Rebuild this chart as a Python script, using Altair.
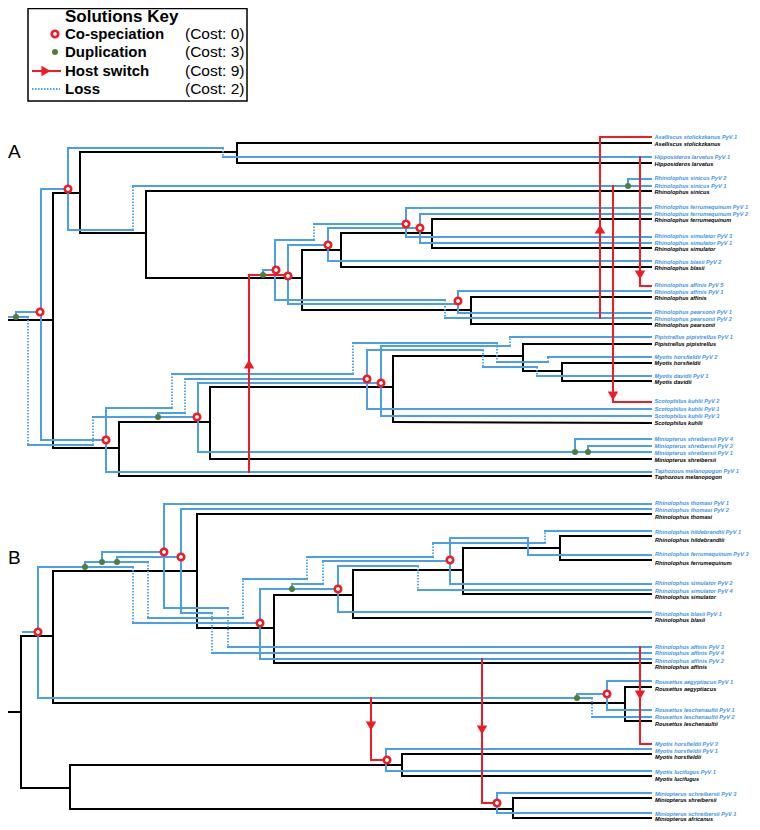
import altair as alt
import pandas as pd

# ---------------- colours ----------------
BLUE = "#4a9fe6"
BLUE_TXT = "#3d95e6"
RED = "#ee1c25"
GREEN = "#4e7d3c"

# ---------------- labels (name, y) ----------------
A_PARASITE_LABELS = [
    ("Aselliscus stolickzkanus PyV 1", 137), ("Hipposideros larvatus PyV 1", 157),
    ("Rhinolophus sinicus PyV 2", 178), ("Rhinolophus sinicus PyV 1", 186),
    ("Rhinolophus ferrumequinum PyV 1", 207), ("Rhinolophus ferrumequinum PyV 2", 214),
    ("Rhinolophus simulator PyV 3", 236), ("Rhinolophus simulator PyV 1", 243),
    ("Rhinolophus blasii PyV 2", 262), ("Rhinolophus affinis PyV 5", 285),
    ("Rhinolophus affinis PyV 1", 292), ("Rhinolophus pearsonii PyV 1", 312),
    ("Rhinolophus pearsonii PyV 2", 319), ("Pipistrellus pipistrellus PyV 1", 337),
    ("Myotis horsfieldii PyV 2", 357), ("Myotis davidii PyV 1", 376),
    ("Scotophilus kuhlii PyV 2", 401), ("Scotophilus kuhlii PyV 1", 409),
    ("Scotophilus kuhlii PyV 3", 416), ("Miniopterus shreibersii PyV 4", 439),
    ("Miniopterus shreibersii PyV 2", 446), ("Miniopterus shreibersii PyV 1", 453),
    ("Taphozous melanopogon PyV 1", 471),
]
A_HOST_LABELS = [
    ("Aselliscus stolickzkanus", 144), ("Hipposideros larvatus", 164),
    ("Rhinolophus sinicus", 192), ("Rhinolophus ferrumequinum", 220),
    ("Rhinolophus simulator", 249), ("Rhinolophus blasii", 268),
    ("Rhinolophus affinis", 297.5), ("Rhinolophus pearsonii", 325),
    ("Pipistrellus pipistrellus", 344), ("Myotis horsfieldii", 363),
    ("Myotis davidii", 382), ("Scotophilus kuhlii", 423),
    ("Miniopterus shreibersii", 460), ("Taphozous melanopogon", 477),
]
B_PARASITE_LABELS = [
    ("Rhinolophus thomasi PyV 1", 503), ("Rhinolophus thomasi PyV 2", 510),
    ("Rhinolophus hildebrandtii PyV 1", 532), ("Rhinolophus ferrumequinum PyV 3", 554),
    ("Rhinolophus simulator PyV 2", 583), ("Rhinolophus simulator PyV 4", 591),
    ("Rhinolophus blasii PyV 1", 614), ("Rhinolophus affinis PyV 3", 647),
    ("Rhinolophus affinis PyV 4", 653), ("Rhinolophus affinis PyV 2", 661),
    ("Rousettus aegyptiacus PyV 1", 682), ("Rousettus leschenaultii PyV 1", 710),
    ("Rousettus leschenaultii PyV 2", 717), ("Myotis horsfieldii PyV 3", 744),
    ("Myotis horsfieldii PyV 1", 751), ("Myotis lucifugus PyV 1", 772),
    ("Miniopterus schreibersii PyV 3", 794), ("Miniopterus schreibersii PyV 1", 814),
]
B_HOST_LABELS = [
    ("Rhinolophus thomasi", 517), ("Rhinolophus hildebrandtii", 540),
    ("Rhinolophus ferrumequinum", 563), ("Rhinolophus simulator", 597),
    ("Rhinolophus blasii", 620), ("Rhinolophus affinis", 667),
    ("Rousettus aegyptiacus", 689), ("Rousettus leschenaultii", 724),
    ("Myotis horsfieldii", 757), ("Myotis lucifugus", 779),
    ("Miniopterus shreibersii", 800), ("Miniopterus africanus", 819),
]

# ---------------- host trees (black) : (x1, y1, x2, y2) ----------------
HOST_A = [
    (9, 320, 53, 320), (53, 193, 53, 448),
    (53, 193, 80, 193), (80, 152, 80, 233),
    (80, 152, 237, 152), (237, 143, 237, 163), (237, 143, 651, 143), (237, 163, 651, 163),
    (80, 233, 146, 233), (146, 191, 146, 278), (146, 191, 651, 191),
    (146, 278, 302, 278), (302, 250, 302, 310),
    (302, 250, 341, 250), (341, 233, 341, 267), (341, 267, 651, 267),
    (341, 233, 432, 233), (432, 219, 432, 248), (432, 219, 651, 219), (432, 248, 651, 248),
    (302, 310, 471, 310), (471, 297, 471, 324), (471, 297, 651, 297), (471, 324, 651, 324),
    (53, 448, 119, 448), (119, 422, 119, 476), (119, 476, 651, 476),
    (119, 422, 210, 422), (210, 387, 210, 459), (210, 459, 651, 459),
    (210, 387, 393, 387), (393, 356, 393, 422), (393, 422, 651, 423),
    (393, 356, 523, 356), (523, 344, 523, 371), (523, 344, 651, 344),
    (523, 371, 562, 371), (562, 363, 562, 381), (562, 363, 651, 363), (562, 381, 651, 381),
]
HOST_B = [
    (9, 712, 21, 712), (21, 636, 21, 788),
    (21, 636, 53, 636), (53, 571, 53, 703),
    (53, 703, 625, 703), (625, 687, 625, 721), (625, 687, 651, 687), (625, 721, 651, 721),
    (53, 571, 197, 571), (197, 514, 197, 628), (197, 514, 651, 514),
    (197, 628, 274, 628), (274, 595, 274, 663), (274, 663, 651, 663),
    (274, 595, 353, 595), (353, 570, 353, 618), (353, 618, 651, 618),
    (353, 570, 463, 570), (463, 548, 463, 594), (463, 594, 651, 594),
    (463, 548, 560, 548), (560, 536, 560, 560), (560, 536, 651, 536), (560, 560, 651, 560),
    (21, 788, 70, 788), (70, 765, 70, 809),
    (70, 765, 402, 765), (402, 754, 402, 776), (402, 754, 651, 754), (402, 776, 651, 776),
    (70, 809, 513, 809), (513, 798, 513, 818), (513, 798, 651, 798), (513, 818, 651, 818),
]

# ---------------- parasite paths (blue): points + segment styles (s solid, d loss) ----------------
PARA_A = [
    ([(9, 317), (28, 317)], "s"),
    ([(16, 317), (16, 312), (40, 312)], "ss"),
    ([(41, 189), (41, 440)], "s"),
    ([(41, 189), (68, 189)], "s"),
    ([(41, 440), (106, 440)], "s"),
    ([(28, 317), (28, 445), (93, 445), (93, 417), (197, 417)], "dsds"),
    ([(68, 148), (68, 230)], "s"),
    ([(68, 148), (223, 148), (223, 157), (651, 157)], "sds"),
    ([(68, 230), (133, 230), (133, 186), (651, 186)], "sds"),
    ([(628, 186), (628, 179), (651, 179)], "ss"),
    ([(106, 408), (106, 472), (651, 472)], "ss"),
    ([(106, 408), (172, 408), (172, 374), (353, 374), (353, 343), (497, 343), (497, 362),
      (548, 362), (548, 357), (651, 357)], "sdsdsdsds"),
    ([(158, 417), (158, 413), (185, 413), (185, 379), (367, 379)], "ssds"),
    ([(198, 383), (198, 452), (651, 452)], "ss"),
    ([(575, 452), (575, 439), (651, 439)], "ss"),
    ([(588, 452), (588, 446), (651, 446)], "ss"),
    ([(198, 383), (381, 383)], "s"),
    ([(367, 350), (367, 409), (651, 409)], "ss"),
    ([(367, 350), (483, 350), (483, 367), (537, 367), (537, 376), (651, 376)], "sdsds"),
    ([(381, 346), (381, 416), (651, 416)], "ss"),
    ([(381, 346), (510, 346), (510, 337), (651, 337)], "sds"),
    ([(263, 275), (263, 270), (276, 270)], "ss"),
    ([(275, 240), (275, 300)], "s"),
    ([(275, 240), (314, 240), (314, 224), (406, 224)], "sds"),
    ([(275, 300), (445, 300), (445, 318), (651, 318)], "sds"),
    ([(288, 245), (288, 304), (458, 304)], "ss"),
    ([(288, 245), (328, 245)], "s"),
    ([(328, 228), (328, 261), (651, 261)], "ss"),
    ([(328, 228), (420, 228)], "s"),
    ([(406, 208), (406, 237), (651, 237)], "ss"),
    ([(406, 208), (651, 208)], "s"),
    ([(420, 214), (420, 243), (651, 243)], "ss"),
    ([(420, 214), (651, 214)], "s"),
    ([(458, 291), (458, 313), (651, 313)], "ss"),
    ([(458, 291), (651, 291)], "s"),
]
PARA_B = [
    ([(23, 632), (38, 632)], "s"),
    ([(38, 567), (38, 698), (577, 698)], "ss"),
    ([(38, 567), (133, 567), (133, 623), (260, 623)], "sds"),
    ([(85, 567), (85, 562), (148, 562), (148, 618), (243, 618), (243, 579), (307, 579),
      (307, 557), (433, 557), (433, 543), (545, 543), (545, 531), (651, 531)], "ssdsdsdsdsds"),
    ([(102, 562), (102, 552), (164, 552)], "ss"),
    ([(117, 562), (117, 557), (181, 557)], "ss"),
    ([(164, 504), (164, 608), (228, 608), (228, 647), (651, 647)], "ssds"),
    ([(164, 504), (651, 504)], "s"),
    ([(181, 509), (181, 613), (212, 613), (212, 653), (651, 653)], "ssds"),
    ([(181, 509), (651, 509)], "s"),
    ([(260, 589), (260, 659), (651, 659)], "ss"),
    ([(260, 589), (338, 589)], "s"),
    ([(292, 589), (292, 584), (323, 584), (323, 561), (450, 561)], "ssds"),
    ([(338, 566), (338, 612), (651, 612)], "ss"),
    ([(338, 566), (418, 566), (418, 590), (651, 590)], "sds"),
    ([(450, 538), (450, 584), (651, 584)], "ss"),
    ([(450, 538), (528, 538), (528, 555), (651, 555)], "sss"),
    ([(577, 698), (577, 694), (607, 694)], "ss"),
    ([(577, 698), (592, 698), (592, 717), (651, 717)], "sds"),
    ([(607, 681), (607, 710), (651, 710)], "ss"),
    ([(607, 681), (651, 681)], "s"),
    ([(386, 749), (386, 771), (651, 771)], "ss"),
    ([(386, 749), (651, 749)], "s"),
    ([(497, 793), (497, 813), (651, 813)], "ss"),
    ([(497, 793), (651, 793)], "s"),
]

# ---------------- host switches (red) ----------------
SWITCH_PATHS = [
    [(249, 472), (249, 275), (288, 275)],
    [(600, 318), (600, 137), (651, 137)],
    [(640, 157), (640, 286), (651, 286)],
    [(613, 186), (613, 402), (651, 402)],
    [(371, 698), (371, 760), (387, 760)],
    [(482, 659), (482, 803), (497, 803)],
    [(640, 647), (640, 744), (651, 744)],
]
ARROW_X = [249, 600, 640, 613, 371, 482, 640]
ARROW_Y = [364, 229, 275, 396, 726, 730, 695]
ARROW_DIR = ["triangle-up", "triangle-up", "triangle-down", "triangle-down",
             "triangle-down", "triangle-down", "triangle-down"]

# ---------------- events ----------------
COSPEC_X = [40, 68, 106, 197, 367, 381, 276, 288, 406, 328, 420, 458,
            38, 164, 181, 260, 338, 450, 607, 387, 497]
COSPEC_Y = [312, 189, 440, 417, 379, 383, 270, 276, 224, 245, 228, 301,
            632, 552, 557, 623, 589, 560, 694, 760, 803]
DUP_X = [16, 158, 628, 575, 588, 263, 85, 102, 117, 292, 577]
DUP_Y = [317, 417, 186, 452, 452, 275, 567, 562, 562, 589, 698]

# ---------------- legend ----------------
LEGEND_BOX = (28, 247, 8.5, 101)
LEGEND_ITEMS = ["Co-speciation", "Duplication", "Host switch", "Loss"]
LEGEND_COSTS = ["(Cost: 0)", "(Cost: 3)", "(Cost: 9)", "(Cost: 2)"]
LEGEND_Y = [34, 52, 71, 89]


# ---------------- build tables ----------------
def path_rows(paths):
    rows = []
    for pts, st in paths:
        for i, s in enumerate(st):
            (x1, y1), (x2, y2) = pts[i], pts[i + 1]
            rows.append(dict(x=x1, y=y1, x2=x2, y2=y2, dotted=(s == "d")))
    return rows


host_df = pd.DataFrame([dict(x=a, y=b, x2=c, y2=d) for a, b, c, d in HOST_A + HOST_B])
para_df = pd.DataFrame(path_rows(PARA_A + PARA_B))
solid_df = para_df[~para_df.dotted]
dotted_df = para_df[para_df.dotted]
red_rows = []
for p in SWITCH_PATHS:
    for i in range(len(p) - 1):
        red_rows.append(dict(x=p[i][0], y=p[i][1], x2=p[i + 1][0], y2=p[i + 1][1]))
red_rows.append(dict(x=33, y=LEGEND_Y[2], x2=60, y2=LEGEND_Y[2]))
red_df = pd.DataFrame(red_rows)
loss_legend_df = pd.DataFrame([dict(x=32, y=LEGEND_Y[3], x2=60, y2=LEGEND_Y[3], dotted=True)])

arrow_df = pd.DataFrame(dict(x=ARROW_X + [46], y=ARROW_Y + [LEGEND_Y[2]],
                             shape=ARROW_DIR + ["triangle-right"]))
cospec_df = pd.DataFrame(dict(x=COSPEC_X + [55], y=COSPEC_Y + [LEGEND_Y[0]]))
dup_df = pd.DataFrame(dict(x=DUP_X + [55], y=DUP_Y + [LEGEND_Y[1]]))

blue_lab = pd.DataFrame(
    [dict(x=654.5, y=y, t=n) for n, y in A_PARASITE_LABELS] +
    [dict(x=655, y=y, t=n) for n, y in B_PARASITE_LABELS])
black_lab = pd.DataFrame(
    [dict(x=654.5, y=y, t=n) for n, y in A_HOST_LABELS] +
    [dict(x=655, y=y, t=n) for n, y in B_HOST_LABELS])

X = alt.X("x:Q", scale=alt.Scale(domain=[8, 752], nice=False, zero=False), axis=None)
Y = alt.Y("y:Q", scale=alt.Scale(domain=[8, 822], nice=False, zero=False, reverse=True), axis=None)

box = alt.Chart(pd.DataFrame([dict(x=LEGEND_BOX[0], x2=LEGEND_BOX[1],
                                   y=LEGEND_BOX[2], y2=LEGEND_BOX[3])])).mark_rect(
    fill="white", stroke="black", strokeWidth=1.5).encode(x=X, y=Y, x2="x2:Q", y2="y2:Q")

host = alt.Chart(host_df).mark_rule(color="black", strokeWidth=2, strokeCap="square").encode(
    x=X, y=Y, x2="x2:Q", y2="y2:Q")
para = alt.Chart(solid_df).mark_rule(color=BLUE, strokeWidth=2, strokeCap="square").encode(
    x=X, y=Y, x2="x2:Q", y2="y2:Q")
loss = alt.Chart(pd.concat([dotted_df, loss_legend_df])).mark_rule(
    color=BLUE, strokeWidth=1.8, strokeDash=[1.5, 1.5]).encode(x=X, y=Y, x2="x2:Q", y2="y2:Q")
red = alt.Chart(red_df).mark_rule(color=RED, strokeWidth=2, strokeCap="square").encode(
    x=X, y=Y, x2="x2:Q", y2="y2:Q")
arrows = alt.Chart(arrow_df).mark_point(filled=True, color=RED, size=110, opacity=1).encode(
    x=X, y=Y, shape=alt.Shape("shape:N", scale=None))
cospec = alt.Chart(cospec_df).mark_point(shape="circle", filled=True, fill="white", stroke=RED,
                                         strokeWidth=2.6, size=42, opacity=1).encode(x=X, y=Y)
dups = alt.Chart(dup_df).mark_point(shape="circle", filled=True, color=GREEN, size=36,
                                    opacity=1).encode(x=X, y=Y)

txt_common = dict(align="left", baseline="middle", font="Liberation Sans")
blue_text = alt.Chart(blue_lab).mark_text(color=BLUE_TXT, fontSize=5.6, fontStyle="italic",
                                          fontWeight="bold", **txt_common).encode(x=X, y=Y, text="t:N")
black_text = alt.Chart(black_lab).mark_text(color="black", fontSize=5.6, fontStyle="italic",
                                            fontWeight="bold", **txt_common).encode(x=X, y=Y, text="t:N")

leg_title = alt.Chart(pd.DataFrame([dict(x=65, y=17, t="Solutions Key")])).mark_text(
    fontSize=17, fontWeight="bold", color="black", **txt_common).encode(x=X, y=Y, text="t:N")
leg_items = alt.Chart(pd.DataFrame(dict(x=[65] * 4, y=LEGEND_Y, t=LEGEND_ITEMS))).mark_text(
    fontSize=15, fontWeight="bold", color="black", **txt_common).encode(x=X, y=Y, text="t:N")
leg_costs = alt.Chart(pd.DataFrame(dict(x=[185] * 4, y=LEGEND_Y, t=LEGEND_COSTS))).mark_text(
    fontSize=15.5, color="black", **txt_common).encode(x=X, y=Y, text="t:N")
panel_lab = alt.Chart(pd.DataFrame(dict(x=[8, 8], y=[152, 558], t=["A", "B"]))).mark_text(
    fontSize=19, color="black", **txt_common).encode(x=X, y=Y, text="t:N")

chart = alt.layer(
    box, host, para, loss, red, arrows, cospec, dups,
    blue_text, black_text, leg_title, leg_items, leg_costs, panel_lab
).properties(
    width=744, height=814, padding=0, autosize=alt.AutoSizeParams(type="none")
).configure_view(stroke=None)

chart.save("out.html", embed_options={"renderer": "svg", "actions": False})
